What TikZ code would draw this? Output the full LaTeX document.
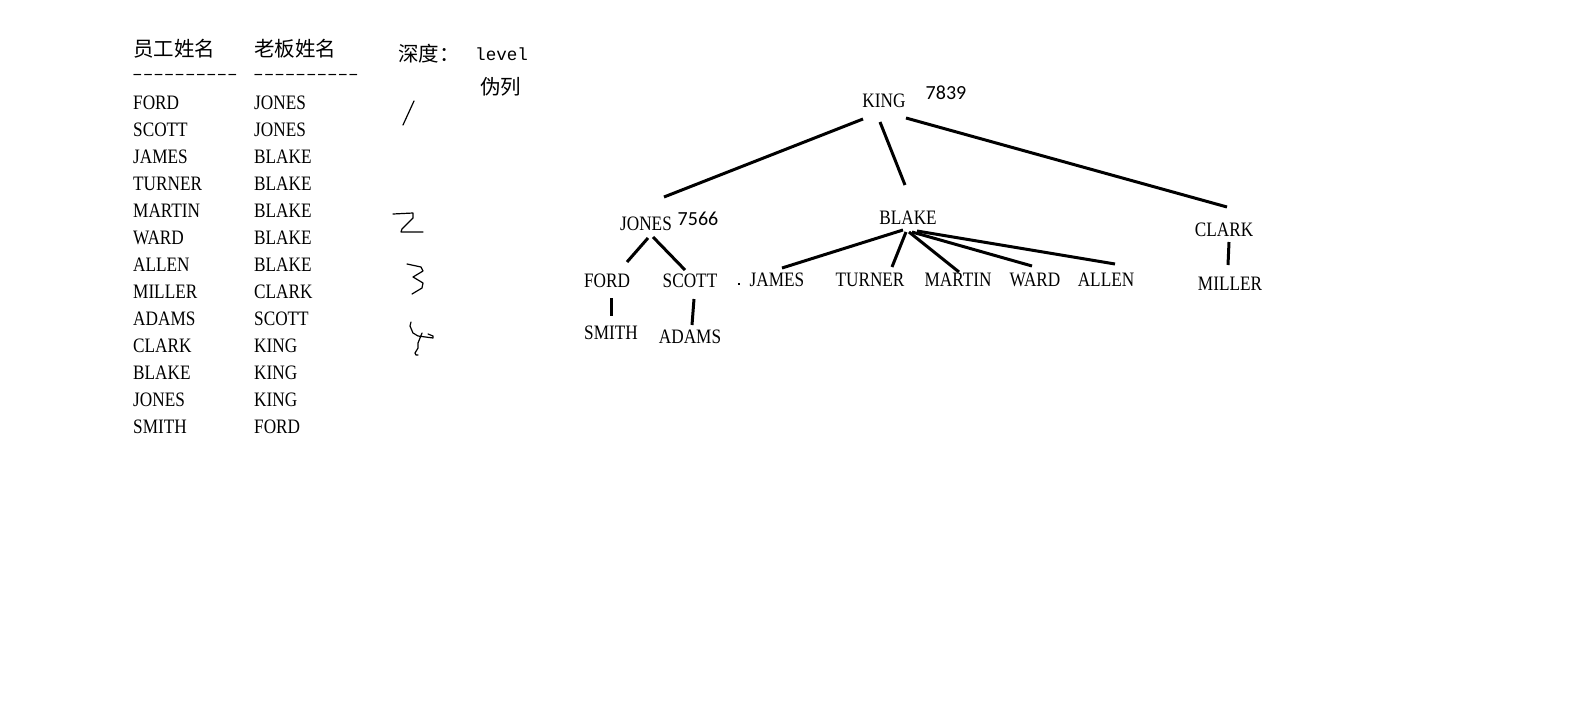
\documentclass[tikz,border=0pt]{standalone}
\usepackage{fontspec}
\setmainfont{Liberation Serif}[FakeStretch=0.84]
\newfontfamily\cjk{Noto Sans CJK SC}
\newfontfamily\monofont{Liberation Mono}
\newfontfamily\numfont{Carlito}
\usetikzlibrary{calc}
\begin{document}
\begin{tikzpicture}[x=1pt,y=-1pt,
  person/.style={inner sep=0pt,font=\fontsize{20.5}{21}\selectfont},
  number/.style={inner sep=0pt,font=\fontsize{20}{20}\numfont},
  rowtext/.style={person,anchor=west},
  hdrtext/.style={inner sep=0pt,anchor=west,font=\fontsize{20.5}{21}\cjk},
  monotext/.style={inner sep=0pt,anchor=west,font=\fontsize{17.6}{18}\monofont},
  edge/.style={line width=3pt},
  hand/.style={line width=1.2pt,line join=round,line cap=round}]
\useasboundingbox[fill=white] (0,0) rectangle (1574,717);

% table header
\node[hdrtext] (h1) at (133,49) {员工姓名};
\node[hdrtext] (h2) at (254,49) {老板姓名};
\node[monotext] (d1) at (132,77) {––––––––––};
\node[monotext] (d2) at (253,77) {––––––––––};

% table rows: employee / boss
\foreach \e/\b [count=\i from 0] in {FORD/JONES,SCOTT/JONES,JAMES/BLAKE,TURNER/BLAKE,
    MARTIN/BLAKE,WARD/BLAKE,ALLEN/BLAKE,MILLER/CLARK,ADAMS/SCOTT,CLARK/KING,
    BLAKE/KING,JONES/KING,SMITH/FORD}{
  \node[rowtext] (emp\i) at (133,103+27*\i) {\e};
  \node[rowtext] (boss\i) at (254,103+27*\i) {\b};
}

% depth notes
\node[hdrtext] (depth) at (398,54) {深度：};
\node[monotext] (level) at (475,54) {level};
\node[hdrtext] (pseudo) at (480,87) {伪列};

% hand-written depth numbers
\draw[hand] (403,125) -- (414,101);
\draw[hand] (393,214) -- (413,213) -- (413,218) -- (402,229) -- (401,232) -- (423,232);
\draw[hand] (407,264) -- (421,267) -- (423,271) -- (413,277) -- (423,283) -- (422,288) -- (412,294);
\draw[hand] (411,322) -- (410,326) -- (413,333) -- (418,336) -- (433,338) -- (433,336) -- (428,334);
\draw[hand] (422,333) -- (418,343) -- (418,348) -- (415,353) -- (416,355) -- (418,355);

% tree
\node[person] (king) at (884,101) {KING};
\node[number] (kingno) at (946,93) {7839};
\node[person] (jones) at (646,224) {JONES};
\node[number] (jonesno) at (698,219) {7566};
\node[person] (blake) at (908,218) {BLAKE};
\node[person] (clark) at (1224,230) {CLARK};
\node[person] (ford) at (607,281) {FORD};
\node[person] (scott) at (690,281) {SCOTT};
\node[person] (james) at (777,280) {JAMES};
\node[person] (turner) at (870,280) {TURNER};
\node[person] (martin) at (958,280) {MARTIN};
\node[person] (ward) at (1035,280) {WARD};
\node[person] (allen) at (1106,280) {ALLEN};
\node[person] (miller) at (1230,284) {MILLER};
\node[person] (smith) at (611,333) {SMITH};
\node[person] (adams) at (690,337) {ADAMS};
\node[fill,inner sep=0pt,minimum size=2.5pt] (dot) at (739,284) {};

\draw[edge] ($(king)+(-21,18)$) -- ($(jones)+(18,-27)$);
\draw[edge] ($(king)+(-4,21)$) -- ($(blake)+(-3,-33)$);
\draw[edge] ($(king)+(22,17)$) -- ($(clark)+(3,-23)$);

\draw[edge] ($(jones)+(2,14)$) -- ($(ford)+(20,-19)$);
\draw[edge] ($(jones)+(7,13)$) -- ($(scott)+(-5,-11)$);
\draw[edge] ($(ford)+(4,17)$) -- ($(smith)+(0,-17)$);
\draw[edge] ($(scott)+(4,18)$) -- ($(adams)+(2,-12)$);

\draw[edge] ($(blake)+(-5,12)$) -- ($(james)+(5,-12)$);
\draw[edge] ($(blake)+(-2,14)$) -- ($(turner)+(22,-13)$);
\draw[edge] ($(blake)+(1,14)$) -- ($(martin)+(1,-8)$);
\draw[edge] ($(blake)+(4,14)$) -- ($(ward)+(-3,-14)$);
\draw[edge] ($(blake)+(9,13)$) -- ($(allen)+(9,-16)$);

\draw[edge] ($(clark)+(5,12)$) -- ($(miller)+(-2,-19)$);
\end{tikzpicture}
\end{document}
